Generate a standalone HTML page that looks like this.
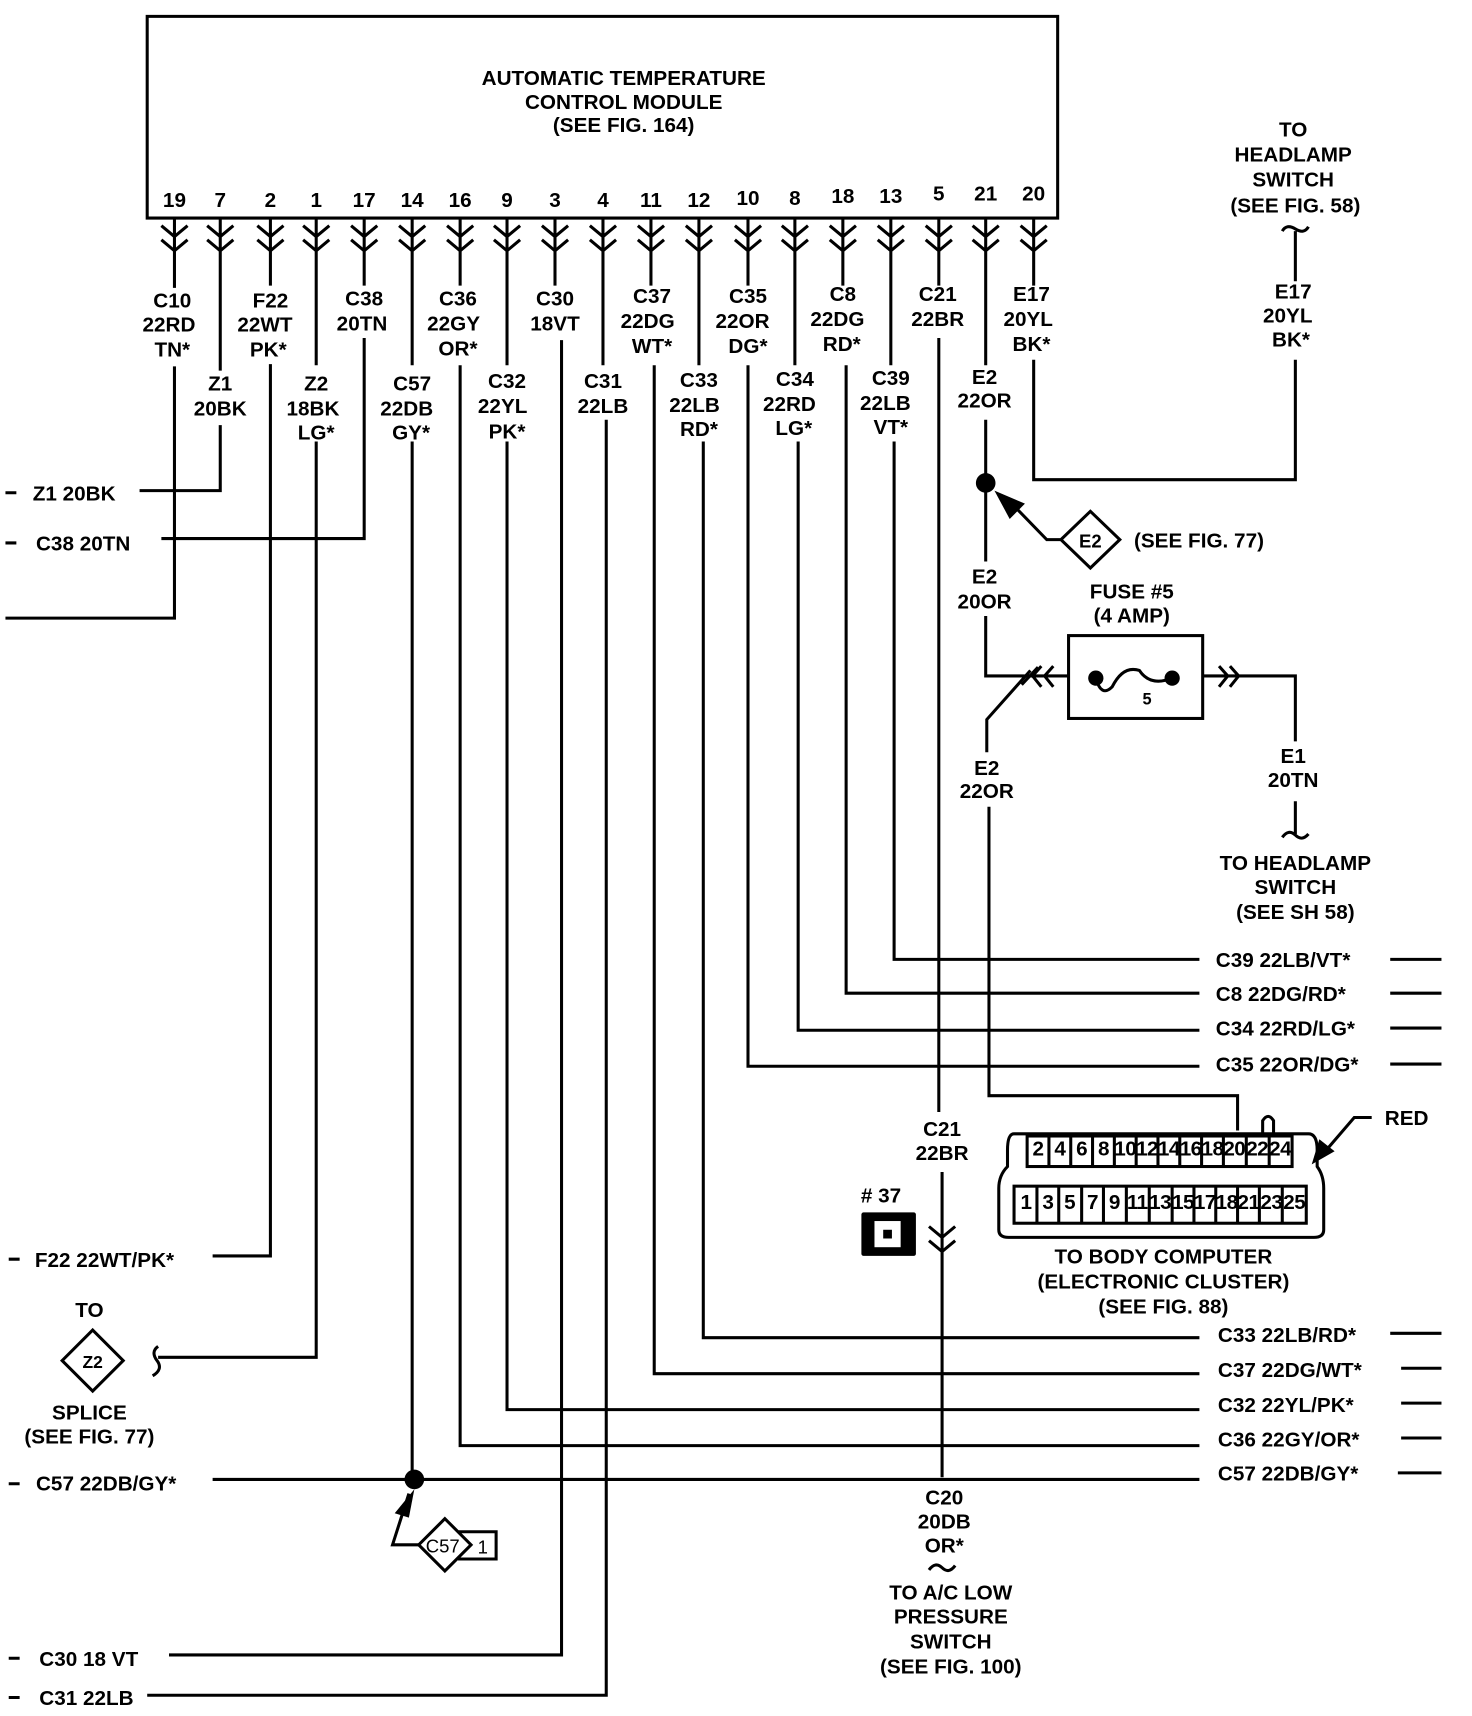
<!DOCTYPE html>
<html><head><meta charset="utf-8"><style>
html,body{margin:0;padding:0;background:#fff;}
svg{display:block;}
text{font-family:"Liberation Sans",sans-serif;font-weight:bold;font-size:19px;fill:#000;}
.c{text-anchor:middle;}
</style></head><body>
<svg width="1472" height="1716" viewBox="0 0 1350 1574" preserveAspectRatio="none" xmlns="http://www.w3.org/2000/svg">
<g fill="none" stroke="#000" stroke-width="2.8">
<path d="M135,15 H970 V200 H135 Z"/>
<path d="M148,207 L160,217 L172,207 M148,220 L160,230 L172,220 M160,200 V264 M160,336 V567 H5"/>
<path d="M190,207 L202,217 L214,207 M190,220 L202,230 L214,220 M202,200 V340 M202,390 V450 H128"/>
<path d="M236,207 L248,217 L260,207 M236,220 L248,230 L260,220 M248,200 V262 M248,334 V1152 H195"/>
<path d="M278,207 L290,217 L302,207 M278,220 L290,230 L302,220 M290,200 V335 M290,405 V1245 H145"/>
<path d="M322,207 L334,217 L346,207 M322,220 L334,230 L346,220 M334,200 V262 M334,310 V494 H148"/>
<path d="M366,207 L378,217 L390,207 M366,220 L378,230 L390,220 M378,200 V335 M378,405 V1357"/>
<path d="M410,207 L422,217 L434,207 M410,220 L422,230 L434,220 M422,200 V262 M422,335 V1326 H1100"/>
<path d="M453,207 L465,217 L477,207 M453,220 L465,230 L477,220 M465,200 V335 M465,405 V1293 H1100"/>
<path d="M497,207 L509,217 L521,207 M497,220 L509,230 L521,220 M509,200 V262 M515,312 V1518 H155"/>
<path d="M541,207 L553,217 L565,207 M541,220 L553,230 L565,220 M553,200 V335 M556,385 V1555 H135"/>
<path d="M585,207 L597,217 L609,207 M585,220 L597,230 L609,220 M597,200 V262 M600,335 V1260 H1100"/>
<path d="M629,207 L641,217 L653,207 M629,220 L641,230 L653,220 M641,200 V335 M645,405 V1227 H1100"/>
<path d="M674,207 L686,217 L698,207 M674,220 L686,230 L698,220 M686,200 V262 M686,335 V978 H1100"/>
<path d="M717,207 L729,217 L741,207 M717,220 L729,230 L741,220 M729,200 V335 M732,405 V945 H1100"/>
<path d="M761,207 L773,217 L785,207 M761,220 L773,230 L785,220 M773,200 V262 M776,335 V911 H1100"/>
<path d="M805,207 L817,217 L829,207 M805,220 L817,230 L829,220 M817,200 V335 M820,405 V880 H1100"/>
<path d="M849,207 L861,217 L873,207 M849,220 L861,230 L873,220 M861,200 V262 M861,310 V1020 M864,1075 V1355"/>
<path d="M852,1125 L864,1135 L876,1125 M852,1138 L864,1148 L876,1138"/>
<path d="M892,207 L904,217 L916,207 M892,220 L904,230 L916,220 M904,200 V335 M904,385 V515 M904,565 V620 H980 M945,615 L905,660 V690 M907,740 V1005 H1135 V1037"/>
<path d="M936,207 L948,217 L960,207 M936,220 L948,230 L960,220 M948,200 V262 M948,330 V440 H1188 V330 M1188,258 V212 M1176,212 Q1180,205 1188,210 Q1196,215 1200,208"/>
<path d="M937,628 L952,612 M955,611 L947,620 L955,630 M966,611 L958,620 L966,630"/>
<path d="M1118,611 L1126,620 L1118,630 M1128,611 L1136,620 L1128,630 M1103,620 H1188 V680 M1188,735 V765 M1176,768 Q1182,760 1188,766 Q1194,772 1200,765"/>
<rect x="980" y="583" width="123" height="76"/>
<path d="M1005,622 Q1010,640 1020,630 Q1030,610 1045,615 Q1055,630 1075,622"/>
<path d="M1000,469 L1027,495 L1000,521 L973,495 Z M973,495 H960 L928,462"/>
<path d="M195,1357 H1100"/>
<path d="M375,1370 L360,1417 H385"/>
<path d="M408,1393 L432,1417 L408,1441 L384,1417 Z M420,1405 H455 V1430 H420"/>
<path d="M85,1220 L113,1248 L85,1276 L57,1248 Z M145,1235 Q138,1240 144,1248 Q150,1256 140,1262"/>
<path d="M852,1440 Q858,1432 864,1438 Q870,1444 876,1436"/>
<path d="M1275,880 H1322 M1275,911 H1322 M1275,943 H1322 M1275,976 H1322 M1275,1223 H1322 M1285,1255 H1322 M1285,1287 H1322 M1285,1319 H1322 M1282,1351 H1322"/>
<path d="M5,452 H15 M5,498 H15 M8,1155 H18 M8,1361 H18 M8,1521 H18 M8,1557 H18"/>
<path d="M930,1040 H1200 Q1208,1040 1208,1055 V1070 Q1214,1078 1214,1090 V1128 Q1214,1135 1205,1135 H925 Q916,1135 916,1128 V1090 Q916,1078 924,1070 V1055 Q924,1040 930,1040 Z"/>
<rect x="942" y="1042" width="243" height="28"/>
<rect x="930" y="1088" width="268" height="34"/>
<path d="M962,1042 V1070 M982,1042 V1070 M1002,1042 V1070 M1022,1042 V1070 M1042,1042 V1070 M1062,1042 V1070 M1082,1042 V1070 M1102,1042 V1070 M1122,1042 V1070 M1143,1042 V1070 M1164,1042 V1070"/>
<path d="M951,1088 V1122 M971,1088 V1122 M992,1088 V1122 M1012,1088 V1122 M1033,1088 V1122 M1054,1088 V1122 M1075,1088 V1122 M1095,1088 V1122 M1115,1088 V1122 M1135,1088 V1122 M1155,1088 V1122 M1176,1088 V1122"/>
<path d="M1158,1040 V1028 Q1163,1020 1168,1028 V1040"/>
<path d="M1258,1025 H1242 L1212,1060"/>
</g>
<g fill="#000">
<circle cx="904" cy="443" r="9"/>
<circle cx="380" cy="1357" r="9"/>
<circle cx="1005" cy="622" r="7"/>
<circle cx="1075" cy="622" r="7"/>
<polygon points="912,450 940,462 926,476"/>
<polygon points="380,1366 362,1388 375,1392"/>
<polygon points="1203,1068 1210,1045 1224,1056"/>
<rect x="790" y="1112" width="50" height="40" rx="2"/>
</g>
<rect x="802" y="1120" width="24" height="24" fill="#fff"/>
<rect x="810" y="1128" width="8" height="8" fill="#000"/>
<g>
<text class="c" x="572" y="78">AUTOMATIC TEMPERATURE</text>
<text class="c" x="572" y="100">CONTROL MODULE</text>
<text class="c" x="572" y="121">(SEE FIG. 164)</text>
<text class="c" x="160" y="190">19</text><text class="c" x="202" y="190">7</text><text class="c" x="248" y="190">2</text><text class="c" x="290" y="190">1</text><text class="c" x="334" y="190">17</text><text class="c" x="378" y="190">14</text><text class="c" x="422" y="190">16</text><text class="c" x="465" y="190">9</text><text class="c" x="509" y="190">3</text><text class="c" x="553" y="190">4</text><text class="c" x="597" y="190">11</text><text class="c" x="641" y="190">12</text><text class="c" x="686" y="188">10</text><text class="c" x="729" y="188">8</text><text class="c" x="773" y="186">18</text><text class="c" x="817" y="186">13</text><text class="c" x="861" y="184">5</text><text class="c" x="904" y="184">21</text><text class="c" x="948" y="184">20</text>
<text class="c" x="158" y="282">C10</text><text class="c" x="155" y="304">22RD</text><text class="c" x="158" y="327">TN*</text>
<text class="c" x="248" y="282">F22</text><text class="c" x="243" y="304">22WT</text><text class="c" x="246" y="327">PK*</text>
<text class="c" x="334" y="280">C38</text><text class="c" x="332" y="303">20TN</text>
<text class="c" x="420" y="280">C36</text><text class="c" x="416" y="303">22GY</text><text class="c" x="420" y="326">OR*</text>
<text class="c" x="509" y="280">C30</text><text class="c" x="509" y="303">18VT</text>
<text class="c" x="598" y="278">C37</text><text class="c" x="594" y="301">22DG</text><text class="c" x="598" y="324">WT*</text>
<text class="c" x="686" y="278">C35</text><text class="c" x="681" y="301">22OR</text><text class="c" x="686" y="324">DG*</text>
<text class="c" x="773" y="276">C8</text><text class="c" x="768" y="299">22DG</text><text class="c" x="772" y="322">RD*</text>
<text class="c" x="860" y="276">C21</text><text class="c" x="860" y="299">22BR</text>
<text class="c" x="946" y="276">E17</text><text class="c" x="943" y="299">20YL</text><text class="c" x="946" y="322">BK*</text>
<text class="c" x="202" y="358">Z1</text><text class="c" x="202" y="381">20BK</text>
<text class="c" x="290" y="358">Z2</text><text class="c" x="287" y="381">18BK</text><text class="c" x="290" y="403">LG*</text>
<text class="c" x="378" y="358">C57</text><text class="c" x="373" y="381">22DB</text><text class="c" x="377" y="403">GY*</text>
<text class="c" x="465" y="356">C32</text><text class="c" x="461" y="379">22YL</text><text class="c" x="465" y="402">PK*</text>
<text class="c" x="553" y="356">C31</text><text class="c" x="553" y="379">22LB</text>
<text class="c" x="641" y="355">C33</text><text class="c" x="637" y="378">22LB</text><text class="c" x="641" y="400">RD*</text>
<text class="c" x="729" y="354">C34</text><text class="c" x="724" y="377">22RD</text><text class="c" x="728" y="399">LG*</text>
<text class="c" x="817" y="353">C39</text><text class="c" x="812" y="376">22LB</text><text class="c" x="817" y="398">VT*</text>
<text class="c" x="903" y="352">E2</text><text class="c" x="903" y="374">22OR</text>
<text class="c" x="1186" y="125">TO</text><text class="c" x="1186" y="148">HEADLAMP</text><text class="c" x="1186" y="171">SWITCH</text><text class="c" x="1188" y="195">(SEE FIG. 58)</text>
<text class="c" x="1186" y="274">E17</text><text class="c" x="1181" y="296">20YL</text><text class="c" x="1184" y="318">BK*</text>
<text x="30" y="459">Z1 20BK</text>
<text x="33" y="505">C38 20TN</text>
<text class="c" x="1000" y="502" style="font-size:17px">E2</text>
<text x="1040" y="502">(SEE FIG. 77)</text>
<text class="c" x="903" y="535">E2</text><text class="c" x="903" y="558">20OR</text>
<text class="c" x="1038" y="549">FUSE #5</text><text class="c" x="1038" y="571">(4 AMP)</text>
<text class="c" x="1052" y="646" style="font-size:15px">5</text>
<text class="c" x="905" y="711">E2</text><text class="c" x="905" y="732">22OR</text>
<text class="c" x="1186" y="700">E1</text><text class="c" x="1186" y="722">20TN</text>
<text class="c" x="1188" y="798">TO HEADLAMP</text><text class="c" x="1188" y="820">SWITCH</text><text class="c" x="1188" y="843">(SEE SH 58)</text>
<text x="1115" y="887">C39 22LB/VT*</text>
<text x="1115" y="918">C8 22DG/RD*</text>
<text x="1115" y="950">C34 22RD/LG*</text>
<text x="1115" y="983">C35 22OR/DG*</text>
<text class="c" x="864" y="1042">C21</text><text class="c" x="864" y="1064">22BR</text>
<text class="c" x="808" y="1103">#  37</text>
<text x="1270" y="1032">RED</text>
<g style="font-size:10px;letter-spacing:-0.5px">
<text class="c" x="952" y="1060">2</text><text class="c" x="972" y="1060">4</text><text class="c" x="992" y="1060">6</text><text class="c" x="1012" y="1060">8</text><text class="c" x="1032" y="1060">10</text><text class="c" x="1052" y="1060">12</text><text class="c" x="1072" y="1060">14</text><text class="c" x="1092" y="1060">16</text><text class="c" x="1112" y="1060">18</text><text class="c" x="1132" y="1060">20</text><text class="c" x="1153" y="1060">22</text><text class="c" x="1174" y="1060">24</text>
<text class="c" x="941" y="1109">1</text><text class="c" x="961" y="1109">3</text><text class="c" x="981" y="1109">5</text><text class="c" x="1002" y="1109">7</text><text class="c" x="1022" y="1109">9</text><text class="c" x="1043" y="1109">11</text><text class="c" x="1064" y="1109">13</text><text class="c" x="1085" y="1109">15</text><text class="c" x="1105" y="1109">17</text><text class="c" x="1125" y="1109">18</text><text class="c" x="1145" y="1109">21</text><text class="c" x="1166" y="1109">23</text><text class="c" x="1187" y="1109">25</text>
</g>
<text class="c" x="1067" y="1159">TO BODY COMPUTER</text>
<text class="c" x="1067" y="1182">(ELECTRONIC CLUSTER)</text>
<text class="c" x="1067" y="1205">(SEE FIG. 88)</text>
<text x="32" y="1162">F22 22WT/PK*</text>
<text class="c" x="82" y="1208">TO</text>
<text class="c" x="85" y="1255" style="font-size:16px">Z2</text>
<text class="c" x="82" y="1302">SPLICE</text>
<text class="c" x="82" y="1324">(SEE FIG. 77)</text>
<text x="1117" y="1231">C33 22LB/RD*</text>
<text x="1117" y="1263">C37 22DG/WT*</text>
<text x="1117" y="1295">C32 22YL/PK*</text>
<text x="1117" y="1327">C36 22GY/OR*</text>
<text x="1117" y="1358">C57 22DB/GY*</text>
<text x="33" y="1367">C57 22DB/GY*</text>
<text class="c" x="406" y="1424" style="font-size:17px;font-weight:normal">C57</text>
<text x="438" y="1425" style="font-size:17px;font-weight:normal">1</text>
<text class="c" x="866" y="1380">C20</text><text class="c" x="866" y="1402">20DB</text><text class="c" x="866" y="1424">OR*</text>
<text class="c" x="872" y="1467">TO A/C LOW</text><text class="c" x="872" y="1489">PRESSURE</text><text class="c" x="872" y="1512">SWITCH</text><text class="c" x="872" y="1535">(SEE FIG. 100)</text>
<text x="36" y="1528">C30 18 VT</text>
<text x="36" y="1564">C31 22LB</text>
</g>
</svg>
</body></html>
